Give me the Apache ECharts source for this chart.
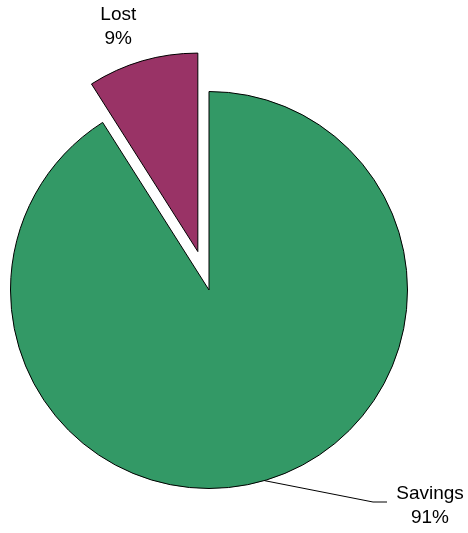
<!DOCTYPE html>
<html>
<head>
<meta charset="utf-8">
<script src="https://cdn.jsdelivr.net/npm/echarts@6/dist/echarts.min.js"></script>
<style>
  html, body { margin: 0; padding: 0; background: #fff; }
  #chart { width: 468px; height: 533px; }
</style>
</head>
<body>
<div id="chart"></div>
<script>
// Share of energy: savings vs. lost
const categories = ['Savings', 'Lost'];
const values = [91, 9];
const colors = ['#339966', '#993366'];

const center = [209, 290];
const radius = 198.5;

const chart = echarts.init(document.getElementById('chart'), null, { renderer: 'canvas' });

const data = categories.map((name, i) => ({
  name: name,
  value: values[i],
  selected: name === 'Lost',
  itemStyle: { color: colors[i] }
}));

chart.setOption({
  animation: false,
  backgroundColor: '#ffffff',
  series: [{
    type: 'pie',
    center: center,
    radius: radius,
    startAngle: 90,
    clockwise: true,
    selectedMode: 'single',
    selectedOffset: 40,
    itemStyle: { borderColor: '#000000', borderWidth: 1 },
    emphasis: { disabled: true },
    select: { itemStyle: { borderColor: '#000000', borderWidth: 1 } },
    label: {
      show: true,
      position: 'outside',
      formatter: '{b}\n{d}%',
      fontFamily: 'Liberation Sans, Arial, sans-serif',
      fontSize: 19,
      lineHeight: 24,
      color: '#000000',
      align: 'center'
    },
    labelLine: {
      show: true,
      lineStyle: { color: '#000000', width: 1 }
    },
    labelLayout: function (p) {
      if (p.dataIndex === 1) {
        // Label sits above the pulled-out slice, without a leader line
        return { dx: 15, dy: -20, align: 'center', labelLinePoints: [[0, 0], [0, 0]] };
      }
      const start = p.labelLinePoints ? p.labelLinePoints[0] : [268, 482];
      return {
        x: 430, y: 506, align: 'center', verticalAlign: 'middle',
        labelLinePoints: [start, [373, 502], [387, 502]]
      };
    },
    data: data
  }]
});
</script>
</body>
</html>
